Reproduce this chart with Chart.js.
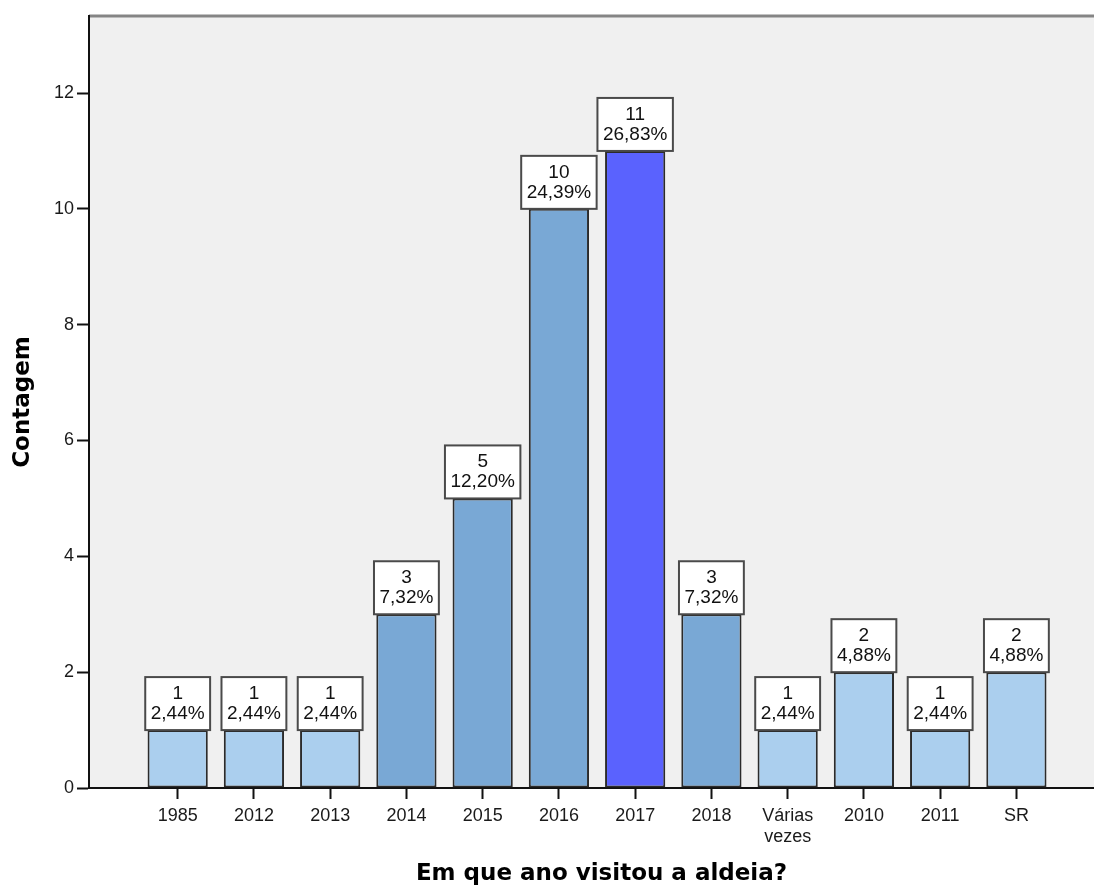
<!DOCTYPE html>
<html>
<head>
<meta charset="utf-8">
<script src="https://cdn.jsdelivr.net/npm/chart.js@4/dist/chart.umd.min.js"></script>
<style>
  html, body { margin: 0; padding: 0; background: #fff; overflow: hidden; }
  #wrap { width: 1094px; height: 888px; overflow: hidden; }
</style>
</head>
<body>
<div id="wrap"><canvas id="myChart" width="1114" height="888"></canvas></div>
<script>
const labels = ['1985', '2012', '2013', '2014', '2015', '2016', '2017', '2018', ['Várias', 'vezes'], '2010', '2011', 'SR']
const counts = [1, 1, 1, 3, 5, 10, 11, 3, 1, 2, 1, 2]
const barColors = [
    '#abcfee', '#abcfee', '#abcfee', '#79a8d5', '#79a8d5', '#79a8d5',
    '#5a62fe', '#79a8d5', '#abcfee', '#abcfee', '#abcfee', '#abcfee',
]
const yTicks = [0, 2, 4, 6, 8, 10, 12]

const total = counts.reduce((a, b) => a + b, 0)

// fundo cinza da área do gráfico + linha superior
const plotBackground = {
    id: 'plotBackground',
    beforeDraw: (chart) => {
        const {ctx, chartArea} = chart
        ctx.save()
        ctx.fillStyle = '#f0f0f0'
        ctx.fillRect(chartArea.left, chartArea.top, chartArea.right - chartArea.left, chartArea.bottom - chartArea.top)
        ctx.strokeStyle = '#858585'
        ctx.lineWidth = 3
        ctx.beginPath()
        ctx.moveTo(chartArea.left, chartArea.top)
        ctx.lineTo(chartArea.right, chartArea.top)
        ctx.stroke()
        ctx.restore()
    }
}

// caixinha com contagem e percentual em cima de cada barra
const boxLabels = {
    id: 'boxLabels',
    afterDatasetsDraw: (chart) => {
        const {ctx} = chart
        const meta = chart.getDatasetMeta(0)
        ctx.save()
        ctx.font = '19px "Liberation Sans", Arial, sans-serif'
        ctx.textAlign = 'center'
        ctx.textBaseline = 'middle'
        meta.data.forEach((bar, i) => {
            const value = counts[i]
            const pct = (value / total * 100).toFixed(2).replace('.', ',') + '%'
            const w = Math.max(ctx.measureText(pct).width, ctx.measureText(String(value)).width) + 11
            const h = 53
            const x = bar.x - w / 2
            const y = bar.y - h
            ctx.fillStyle = '#ffffff'
            ctx.fillRect(x, y, w, h)
            ctx.strokeStyle = '#4a4a4a'
            ctx.lineWidth = 2
            ctx.strokeRect(x, y, w, h)
            ctx.fillStyle = '#111'
            ctx.fillText(String(value), bar.x, y + h / 2 - 10)
            ctx.fillText(pct, bar.x, y + h / 2 + 10)
        })
        ctx.restore()
    }
}

const data = {
    datasets: [{
        data: labels.map((l, i) => ({x: i, y: counts[i]})),
        backgroundColor: barColors,
        borderColor: '#2b2b2b',
        borderWidth: 2,
        borderSkipped: false,
        categoryPercentage: 1,
        barPercentage: 0.79,
    }]
}

const tickFont = {family: '"Liberation Sans", Arial, sans-serif', size: 18}
const titleFont = {family: '"DejaVu Sans", sans-serif', size: 23, weight: 'bold'}

const config = {
    type: 'bar',
    data: data,
    plugins: [plotBackground, boxLabels],
    options: {
        responsive: false,
        animation: false,
        layout: {padding: {top: 16, right: 0, bottom: 0, left: 0}},
        plugins: {
            legend: {display: false},
            tooltip: {enabled: false},
        },
        scales: {
            x: {
                type: 'linear',
                offset: false,
                min: -1.163,
                max: 12.28,
                afterBuildTicks: (scale) => {
                    scale.ticks = labels.map((l, i) => ({value: i}))
                },
                afterFit: (scale) => { scale.height = 100 },
                ticks: {
                    font: tickFont,
                    color: '#1a1a1a',
                    padding: 6,
                    maxRotation: 0,
                    autoSkip: false,
                    callback: (value) => labels[value],
                },
                grid: {offset: false, drawOnChartArea: false, tickLength: 11, tickColor: '#111', tickWidth: 2},
                border: {color: '#111', width: 2},
                title: {
                    display: true,
                    text: 'Em que ano visitou a aldeia?',
                    font: titleFont,
                    color: '#000',
                    padding: {top: 0, bottom: 0},
                },
            },
            y: {
                min: 0,
                max: 13.33,
                afterBuildTicks: (scale) => {
                    scale.ticks = yTicks.map(v => ({value: v}))
                },
                afterFit: (scale) => { scale.width = 89 },
                ticks: {font: tickFont, color: '#1a1a1a', padding: 3},
                grid: {drawOnChartArea: false, tickLength: 12, tickColor: '#111', tickWidth: 2},
                border: {color: '#111', width: 2},
                title: {
                    display: true,
                    text: 'Contagem',
                    font: titleFont,
                    color: '#000',
                    padding: {top: 9, bottom: 0},
                },
            },
        },
    },
}

const ctx = document.querySelector('#myChart').getContext('2d')
const myChart = new Chart(ctx, config)
</script>
</body>
</html>
